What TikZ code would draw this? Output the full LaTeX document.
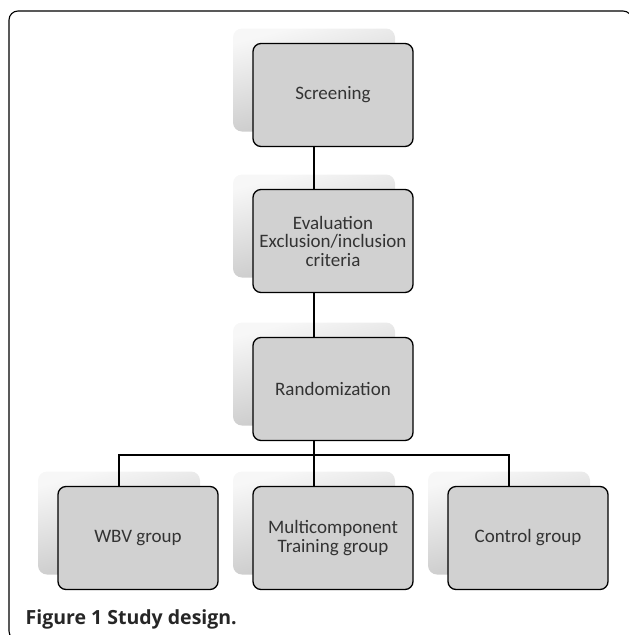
\documentclass[tikz,border=0pt]{standalone}
\usepackage{fontspec}
\setmainfont{Carlito}
\newfontfamily\capfont{Open Sans}
\usetikzlibrary{positioning,calc}
\tikzset{
every picture/.style={
line width=1.3pt
}}
\tikzset{
backbox/.style={
  minimum width=162pt, minimum height=103pt,
  rounded corners=9pt, inner sep=0pt,
  top color=black!3, bottom color=black!24, shading angle=15
},
frontbox/.style={
  draw, fill=black!18,
  minimum width=160pt, minimum height=103pt,
  rounded corners=8pt, inner sep=0pt,
  align=center, text=black!80,
  font=\fontsize{19}{18.5}\selectfont
},
stack/.pic={
  \node[backbox] (-back) at (0,0) {};
  \node[frontbox] (-box) at (19,15) {#1};
}
}

\begin{document}
\begin{tikzpicture}[x=1pt,y=-1pt]
  \useasboundingbox (0,0) rectangle (629,635);
  \draw[line width=1.1pt, rounded corners=9pt] (9,11) rectangle (632,640);

  \pic (scr) at (314,80) {stack=Screening};
  \pic (ev) at (314,226) {stack={Evaluation\\Exclusion/inclusion\\criteria}};
  \pic (rnd) at (314,374) {stack=Randomization};
  \pic (wbv) at (119,523) {stack={WBV group}};
  \pic (mc) at (314,523) {stack={Multicomponent\\Training group}};
  \pic (ctl) at (509,523) {stack={Control group}};

  \coordinate (fork) at (314,455);

  \draw (scr-box.south -| scr-back) -- (ev-box.north -| ev-back);
  \draw (ev-box.south -| ev-back) -- (rnd-box.north -| rnd-back);
  \draw (rnd-box.south -| rnd-back) -- (fork);
  \draw (wbv-box.north -| wbv-back) |- (fork) -| (ctl-box.north -| ctl-back);
  \draw (fork) -- (mc-box.north -| mc-back);

  \node[anchor=base west, inner sep=0pt, text=black!85, font=\capfont\bfseries\fontsize{19.5}{20}\selectfont] (cap) at (25,624) {Figure 1 Study design.};
\end{tikzpicture}
\end{document}
